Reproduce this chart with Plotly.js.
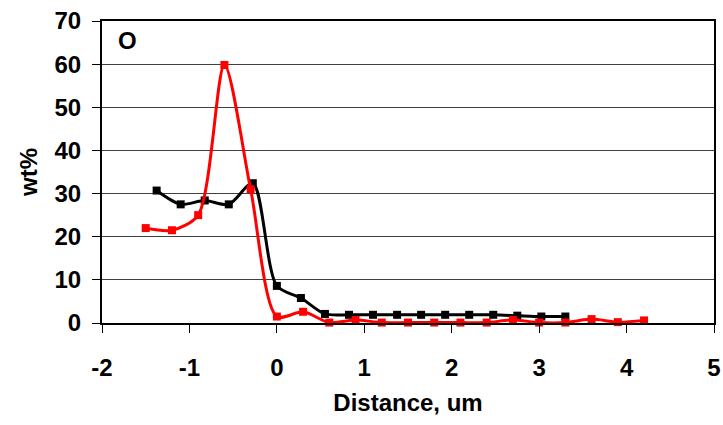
<!DOCTYPE html>
<html>
<head>
<meta charset="utf-8">
<script src="https://cdn.plot.ly/plotly-3.0.1.min.js"></script>
<style>html,body{margin:0;padding:0;background:#fff;}#chart{width:723px;height:425px;}</style>
</head>
<body>
<div id="chart"></div>
<script>
// Black series
const blackX = [-1.375, -1.1, -0.825, -0.55, -0.275, 0, 0.275, 0.55, 0.825, 1.1, 1.375, 1.65, 1.925, 2.2, 2.475, 2.75, 3.025, 3.3];
const blackY = [30.7, 27.5, 28.4, 27.5, 32.4, 8.6, 5.8, 2.1, 1.9, 1.9, 1.9, 1.9, 1.9, 1.9, 1.9, 1.7, 1.5, 1.5];
// Red series
const redX = [-1.5, -1.2, -0.9, -0.6, -0.3, 0, 0.3, 0.6, 0.9, 1.2, 1.5, 1.8, 2.1, 2.4, 2.7, 3.0, 3.3, 3.6, 3.9, 4.2];
const redY = [22, 21.5, 25, 59.8, 31, 1.5, 2.6, 0.1, 0.7, 0.1, 0.1, 0.1, 0.1, 0.1, 0.7, 0.1, 0.1, 0.9, 0.2, 0.6];
// Axis ticks
const xTicks = [-2, -1, 0, 1, 2, 3, 4, 5];
const yTicks = [0, 10, 20, 30, 40, 50, 60, 70];
const panelLabel = 'O';
const xTitle = 'Distance, um';
const yTitle = 'wt%';

const font = {family: 'Liberation Sans, Arial, sans-serif', color: '#000'};

const traces = [
  {x: blackX, y: blackY, type: 'scatter', mode: 'lines+markers',
   line: {color: '#000000', width: 3, shape: 'spline', smoothing: 0.8},
   marker: {symbol: 'square', size: 8, color: '#000000'}, cliponaxis: false},
  {x: redX, y: redY, type: 'scatter', mode: 'lines+markers',
   line: {color: '#ff0000', width: 3, shape: 'spline', smoothing: 0.8},
   marker: {symbol: 'square', size: 8, color: '#ff0000'}, cliponaxis: false}
];

const layout = {
  width: 723, height: 425,
  margin: {l: 102, r: 9, t: 21, b: 102},
  paper_bgcolor: '#fff', plot_bgcolor: '#fff',
  showlegend: false,
  font: Object.assign({size: 24}, font),
  xaxis: {
    range: [-2, 5], tickvals: xTicks, ticktext: xTicks.map(String),
    showgrid: false, zeroline: false,
    showline: true, linecolor: '#000', linewidth: 2, mirror: true,
    ticks: 'outside', ticklen: 8, tickcolor: '#000', tickwidth: 1,
    ticklabelstandoff: 14,
    tickfont: Object.assign({size: 24, weight: 'bold'}, font),
    title: {text: '<b>' + xTitle + '</b>', font: Object.assign({size: 24}, font), standoff: 14}
  },
  yaxis: {
    range: [0, 70], tickvals: yTicks, ticktext: yTicks.map(String),
    showgrid: true, gridcolor: '#404040', gridwidth: 1, zeroline: false,
    showline: true, linecolor: '#000', linewidth: 2, mirror: true,
    ticks: 'outside', ticklen: 8, tickcolor: '#000', tickwidth: 1,
    ticklabelstandoff: 6,
    tickfont: Object.assign({size: 24, weight: 'bold'}, font),
    title: {text: '<b>' + yTitle + '</b>', font: Object.assign({size: 24}, font), standoff: 10}
  },
  annotations: [{
    text: '<b>' + panelLabel + '</b>', xref: 'paper', yref: 'paper',
    x: 0.041, y: 0.937, xanchor: 'center', yanchor: 'middle', showarrow: false,
    font: Object.assign({size: 24}, font)
  }]
};

Plotly.newPlot('chart', traces, layout, {displayModeBar: false, staticPlot: true});
</script>
</body>
</html>
